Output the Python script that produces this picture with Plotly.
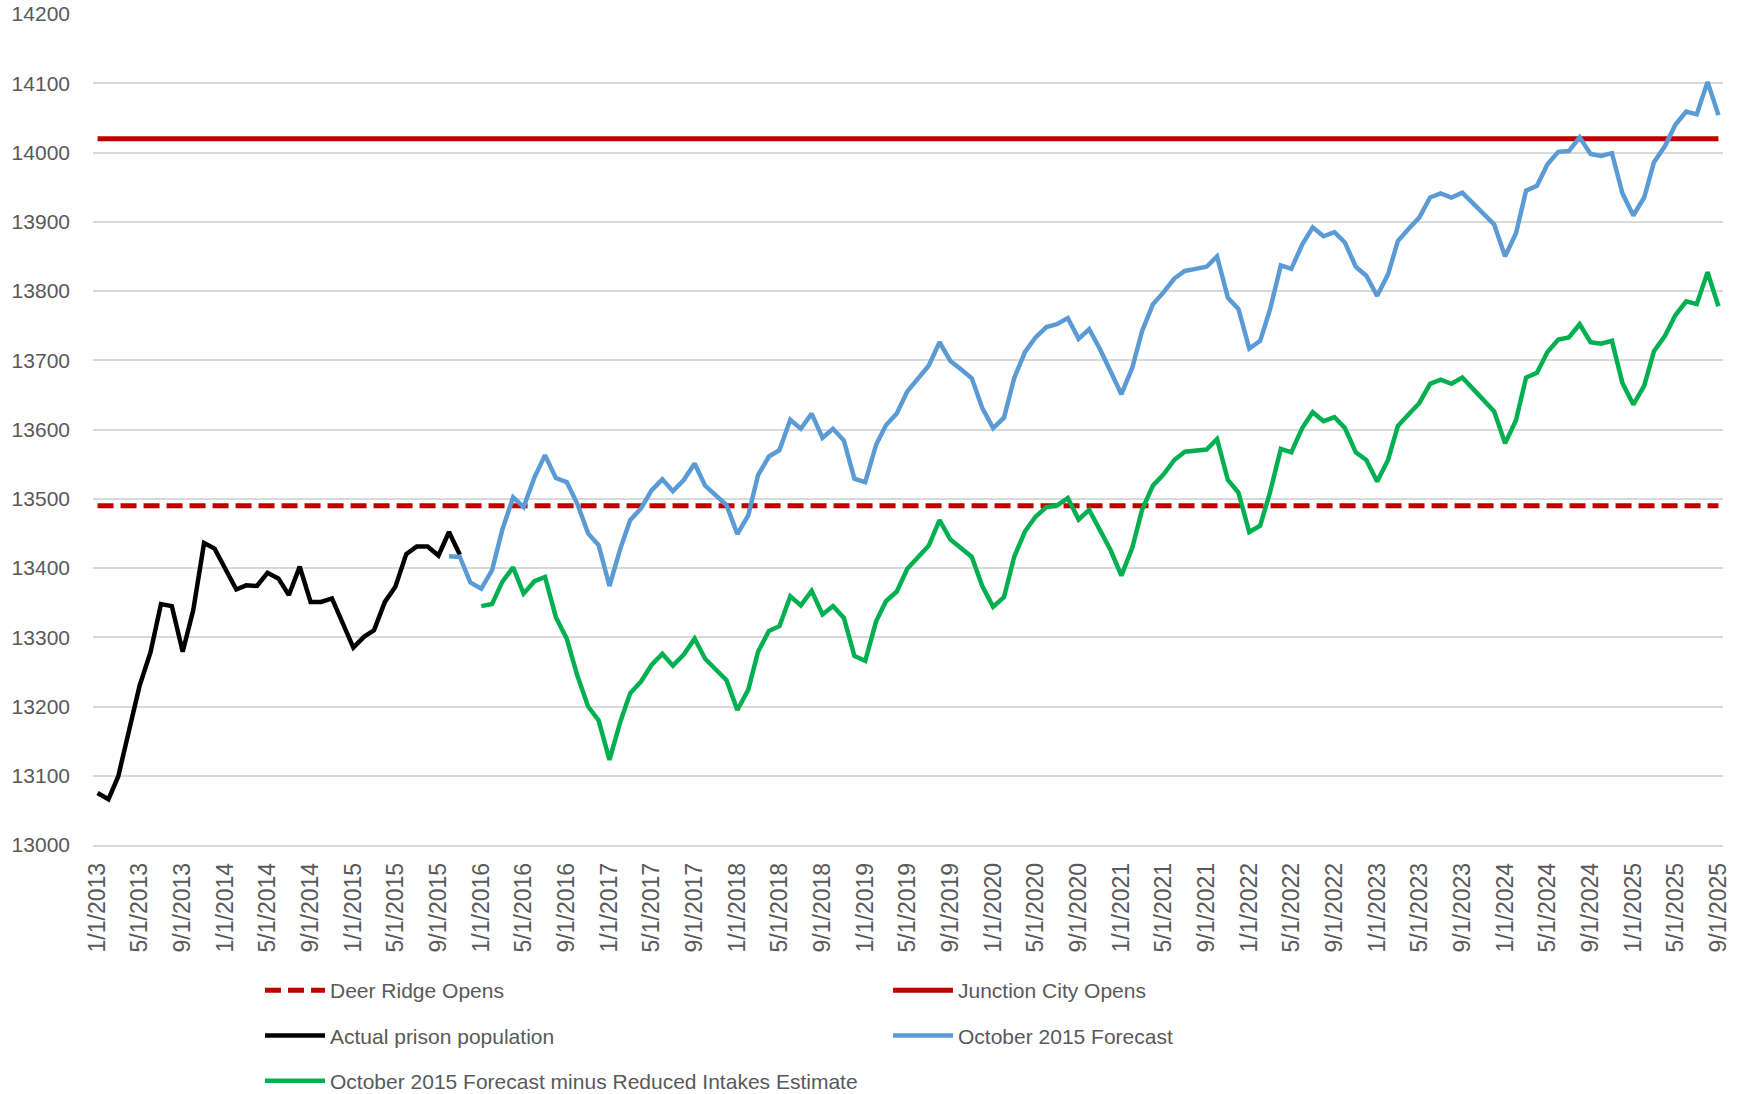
import pandas as pd
import plotly.graph_objects as go

# Monthly categories, 1/1/2013 .. 9/1/2025
months = pd.date_range("2013-01-01", "2025-09-01", freq="MS")

# Actual prison population: 1/1/2013 .. 11/1/2015
actual = [13075, 13066, 13099, 13168, 13230, 13278, 13348, 13345, 13279, 13339,
          13436, 13428, 13399, 13369, 13375, 13374, 13393, 13385, 13361, 13402,
          13351, 13351, 13356, 13322, 13285, 13301, 13310, 13351, 13373, 13420,
          13431, 13431, 13418, 13452, 13419]

# October 2015 Forecast: 10/1/2015 .. 9/1/2025
forecast = [13417, 13416, 13379, 13370, 13397, 13455, 13502, 13488, 13531, 13563,
            13530, 13524, 13493, 13450, 13433, 13374, 13428, 13469, 13486, 13512,
            13528, 13511, 13527, 13551, 13519, 13505, 13491, 13449, 13476, 13534,
            13561, 13570, 13614, 13601, 13623, 13588, 13601, 13584, 13529, 13524,
            13578, 13606, 13623, 13655, 13675, 13692, 13726, 13699, 13687, 13674,
            13631, 13602, 13617, 13674, 13712, 13733, 13748, 13752, 13761, 13731,
            13745, 13716, 13684, 13651, 13689, 13742, 13781, 13798, 13818, 13829,
            13832, 13835, 13850, 13790, 13774, 13717, 13728, 13773, 13837, 13832,
            13867, 13892, 13879, 13885, 13870, 13835, 13822, 13793, 13824, 13872,
            13890, 13906, 13935, 13941, 13935, 13942, 13927, 13912, 13896, 13850,
            13883, 13945, 13952, 13983, 14001, 14002, 14022, 13998, 13995, 13999,
            13941, 13909, 13935, 13986, 14009, 14040, 14059, 14055, 14102, 14054]

# October 2015 Forecast minus Reduced Intakes Estimate: 1/1/2016 .. 9/1/2025
reduced = [13345, 13348, 13380, 13401, 13363, 13381, 13387, 13329, 13298, 13245,
           13200, 13180, 13123, 13178, 13219, 13236, 13260, 13276, 13259, 13275,
           13298, 13269, 13253, 13238, 13195, 13224, 13279, 13309, 13316, 13359,
           13346, 13367, 13333, 13345, 13328, 13273, 13266, 13323, 13352, 13366,
           13399, 13417, 13432, 13469, 13441, 13429, 13416, 13374, 13344, 13358,
           13416, 13453, 13474, 13488, 13490, 13501, 13470, 13484, 13455, 13426,
           13389, 13429, 13484, 13519, 13535, 13556, 13568, 13570, 13571, 13586,
           13527, 13509, 13452, 13461, 13509, 13572, 13567, 13602, 13625, 13612,
           13618, 13602, 13567, 13556, 13525, 13556, 13605, 13622, 13638, 13666,
           13672, 13666, 13675, 13659, 13643, 13626, 13580, 13613, 13675, 13682,
           13712, 13730, 13733, 13752, 13726, 13724, 13728, 13667, 13636, 13663,
           13713, 13735, 13765, 13785, 13781, 13827, 13778]

deer_ridge_capacity = 13490
junction_city_capacity = 14020

x_actual = months[:len(actual)]
x_forecast = months[33:33 + len(forecast)]
x_reduced = months[36:36 + len(reduced)]

tick_dates = months[::4]
tick_text = [f"{d.month}/{d.day}/{d.year}" for d in tick_dates]

FONT = "Liberation Sans, Arial, sans-serif"
GREY = "#595959"

W, H = 1743, 1094

fig = go.Figure()
fig.add_trace(go.Scatter(x=months, y=[deer_ridge_capacity] * len(months), mode="lines",
                         name="Deer Ridge Opens", legendgroup="g1",
                         line=dict(color="#C00000", width=5, dash="16px,7px")))
fig.add_trace(go.Scatter(x=months, y=[junction_city_capacity] * len(months), mode="lines",
                         name="Junction City Opens", legendgroup="g2",
                         line=dict(color="#C00000", width=5)))
fig.add_trace(go.Scatter(x=x_actual, y=actual, mode="lines",
                         name="Actual prison population", legendgroup="g3",
                         line=dict(color="#000000", width=4.5)))
fig.add_trace(go.Scatter(x=x_forecast, y=forecast, mode="lines",
                         name="October 2015 Forecast", legendgroup="g4",
                         line=dict(color="#5B9BD5", width=4.5)))
fig.add_trace(go.Scatter(x=x_reduced, y=reduced, mode="lines",
                         name="October 2015 Forecast minus Reduced Intakes Estimate",
                         legendgroup="g5",
                         line=dict(color="#00B050", width=4.5)))

fig.update_layout(
    width=W, height=H,
    margin=dict(l=93, r=20, t=14, b=249, autoexpand=False),
    paper_bgcolor="white", plot_bgcolor="white",
    font=dict(family=FONT, size=21, color=GREY),
    showlegend=True,
    legend=dict(
        orientation="h",
        xref="container", x=260 / W, xanchor="left",
        yref="container", y=1 - 970 / H, yanchor="top",
        itemwidth=60, entrywidth=553, entrywidthmode="pixels",
        tracegroupgap=15, traceorder="grouped",
        font=dict(family=FONT, size=21, color=GREY),
        bgcolor="rgba(0,0,0,0)",
    ),
    xaxis=dict(
        range=["2012-12-19", "2025-09-14"],
        tickmode="array", tickvals=tick_dates, ticktext=tick_text,
        tickangle=-90, showgrid=False, zeroline=False,
        showline=True, linecolor="#D9D9D9", linewidth=1.5,
        ticks="", ticklabelstandoff=7, automargin=False,
        tickfont=dict(family=FONT, size=23, color=GREY),
    ),
    yaxis=dict(
        range=[13000, 14200], dtick=100, tick0=13000, tickformat="d",
        showgrid=True, gridcolor="#D9D9D9", gridwidth=1.5,
        zeroline=False, showline=False, ticks="",
        ticklabelstandoff=22, automargin=False, ticklabeloverflow="allow",
        tickfont=dict(family=FONT, size=21, color=GREY),
    ),
)

# Remove the default page margin so the figure fills the window exactly.
fig.write_html("out.html",
               config={"displayModeBar": False},
               post_script="document.body.style.margin='0';document.body.style.overflow='hidden';")
